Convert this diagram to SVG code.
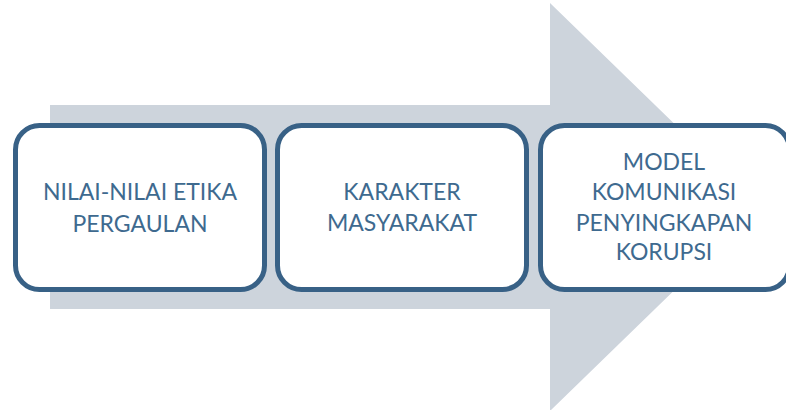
<svg xmlns="http://www.w3.org/2000/svg" width="786" height="410" viewBox="0 0 786 410">
<style>
.box{fill:#ffffff;stroke:#386186;stroke-width:5}
.lbl{font-family:Lato,"Open Sans",sans-serif;font-size:23px;fill:#3e6a8f;text-anchor:middle}
</style>
<rect width="786" height="410" fill="#ffffff"/>
<g id="arrow">
<polygon points="50,105 550,105 550,3 760,207 550,411 550,309 50,309" fill="#cdd4dc"/>
</g>
<g id="connectors"></g>
<g id="node1">
<rect class="box" x="15.5" y="125.5" width="249" height="164" rx="24"/>
<text class="lbl" x="140" y="200">NILAI-NILAI ETIKA</text>
<text class="lbl" x="140" y="232">PERGAULAN</text>
</g>
<g id="node2">
<rect class="box" x="277.5" y="125.5" width="249" height="164" rx="24"/>
<text class="lbl" x="402" y="200">KARAKTER</text>
<text class="lbl" x="402" y="231">MASYARAKAT</text>
</g>
<g id="node3">
<rect class="box" x="540.5" y="125.5" width="249" height="164" rx="24"/>
<text class="lbl" x="664" y="170">MODEL</text>
<text class="lbl" x="664" y="200">KOMUNIKASI</text>
<text class="lbl" x="664" y="231">PENYINGKAPAN</text>
<text class="lbl" x="664" y="260">KORUPSI</text>
</g>
</svg>
